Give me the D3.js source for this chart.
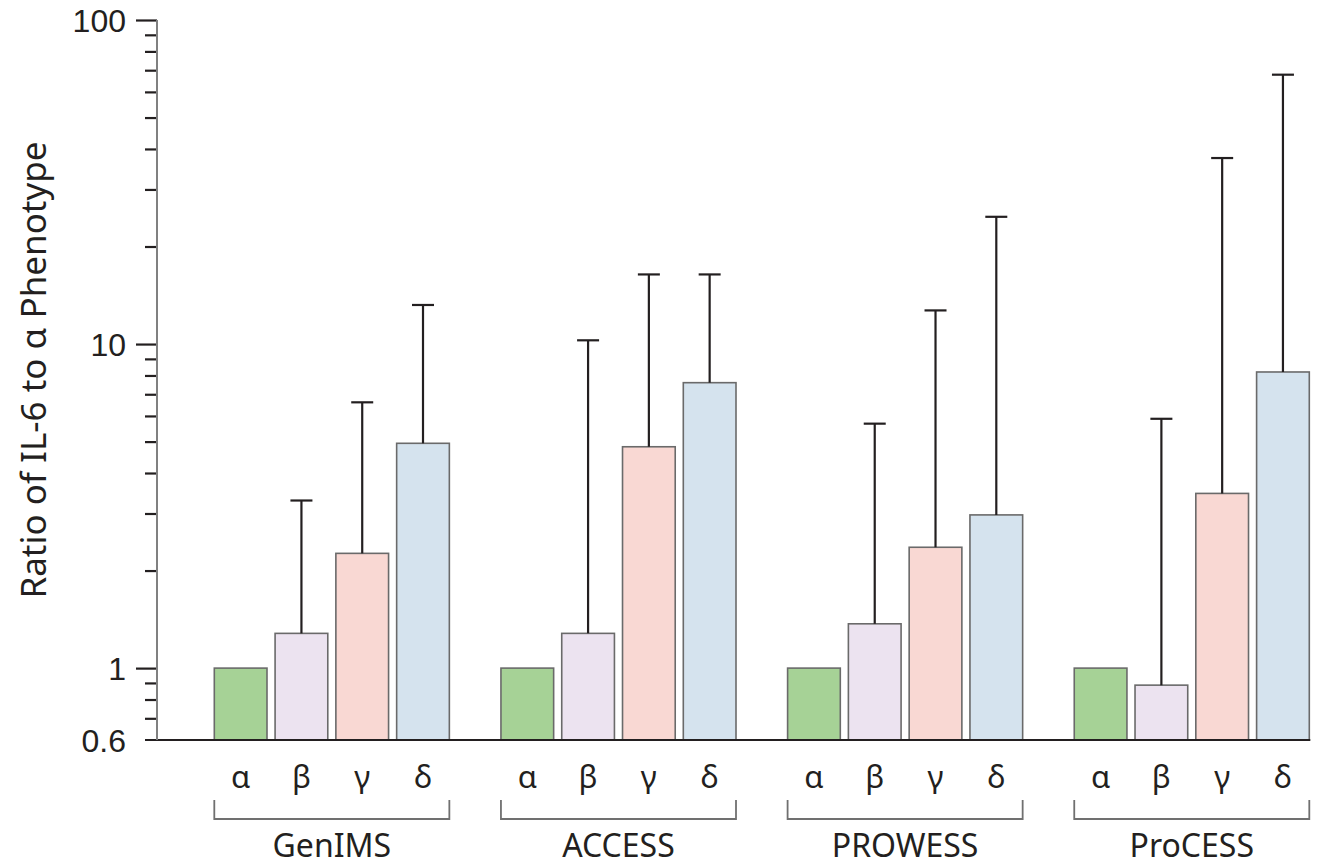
<!DOCTYPE html>
<html>
<head>
<meta charset="utf-8">
<script src="https://cdn.jsdelivr.net/npm/d3@7"></script>
<style>
  html, body { margin: 0; padding: 0; background: #fff; }
  svg { display: block; font-family: "Noto Sans", "Open Sans", sans-serif; }
</style>
</head>
<body>
<svg id="chart" width="1322" height="867"></svg>
<script>
// Cohorts and phenotypes
const cohorts = ["GenIMS", "ACCESS", "PROWESS", "ProCESS"];
const phenotypes = ["α", "β", "γ", "δ"];

// Ratio of IL-6 relative to the α phenotype (one row per cohort, α..δ)
const ratioGenIMS  = [1, 1.28, 2.26, 4.94];
const ratioACCESS  = [1, 1.28, 4.82, 7.60];
const ratioPROWESS = [1, 1.37, 2.36, 2.97];
const ratioProCESS = [1, 0.886, 3.46, 8.20];

// Upper end of the error bars (α has none)
const upperGenIMS  = [null, 3.29, 6.61, 13.2];
const upperACCESS  = [null, 10.27, 16.4, 16.4];
const upperPROWESS = [null, 5.68, 12.7, 24.7];
const upperProCESS = [null, 5.88, 37.5, 67.8];

// Y-axis tick values
const majorTicks = [0.6, 1, 10, 100];
const majorTickLabels = ["0.6", "1", "10", "100"];
const minorTicks = [0.7, 0.8, 0.9, 2, 3, 4, 5, 6, 7, 8, 9, 20, 30, 40, 50, 60, 70, 80, 90];

const phenotypeColors = ["#a6d296", "#ece3f0", "#f9d8d3", "#d5e3ee"];

const ratios = [ratioGenIMS, ratioACCESS, ratioPROWESS, ratioProCESS];
const uppers = [upperGenIMS, upperACCESS, upperPROWESS, upperProCESS];

const rows = [];
cohorts.forEach((c, i) => {
  phenotypes.forEach((p, j) => {
    rows.push({ cohort: c, phenotype: p, value: ratios[i][j], upper: uppers[i][j], color: phenotypeColors[j] });
  });
});

const svg = d3.select("#chart");

const axisX = 157;
const y = d3.scaleLog().domain([0.6, 100]).range([740, 20]);
const baseY = y(0.6);

const x0 = d3.scaleBand().domain(cohorts).range([214.3, 1309.3]).paddingInner(0.18).paddingOuter(0);
const x1 = d3.scaleBand().domain(phenotypes).range([0, x0.bandwidth()]).paddingInner(0.133).paddingOuter(0);

// Bars
const g = svg.append("g");
g.selectAll("rect.bar")
  .data(rows)
  .join("rect")
  .attr("class", "bar")
  .attr("x", d => x0(d.cohort) + x1(d.phenotype))
  .attr("width", x1.bandwidth())
  .attr("y", d => y(d.value))
  .attr("height", d => baseY - y(d.value))
  .attr("fill", d => d.color)
  .attr("stroke", "#6a6a6a")
  .attr("stroke-width", 1.6);

// Error bars
const capHalf = 11;
const withErr = rows.filter(d => d.upper != null);
const eg = g.selectAll("g.err").data(withErr).join("g").attr("class", "err")
  .attr("stroke", "#231f20").attr("stroke-width", 2.2);
eg.append("line")
  .attr("x1", d => x0(d.cohort) + x1(d.phenotype) + x1.bandwidth() / 2)
  .attr("x2", d => x0(d.cohort) + x1(d.phenotype) + x1.bandwidth() / 2)
  .attr("y1", d => y(d.value))
  .attr("y2", d => y(d.upper));
eg.append("line")
  .attr("x1", d => x0(d.cohort) + x1(d.phenotype) + x1.bandwidth() / 2 - capHalf)
  .attr("x2", d => x0(d.cohort) + x1(d.phenotype) + x1.bandwidth() / 2 + capHalf)
  .attr("y1", d => y(d.upper))
  .attr("y2", d => y(d.upper));

// Baseline
svg.append("line")
  .attr("x1", axisX - 12).attr("x2", x0.range()[1] + 1)
  .attr("y1", baseY).attr("y2", baseY)
  .attr("stroke", "#231f20").attr("stroke-width", 2);

// Minor ticks
const minorAxis = d3.axisLeft(y).tickValues(minorTicks).tickSize(12).tickFormat("");
const gMinor = svg.append("g").attr("transform", `translate(${axisX},0)`).call(minorAxis);
gMinor.select(".domain").remove();
gMinor.selectAll(".tick line").attr("stroke", "#231f20").attr("stroke-width", 2.2);

// Major ticks with labels
const majorAxis = d3.axisLeft(y).tickValues(majorTicks).tickSize(21).tickPadding(10)
  .tickFormat((d, i) => majorTickLabels[i]);
const gMajor = svg.append("g").attr("transform", `translate(${axisX},0)`).call(majorAxis);
gMajor.select(".domain").remove();
gMajor.selectAll(".tick line").attr("stroke", "#231f20").attr("stroke-width", 2.2)
  .filter(d => d === 0.6).remove();
gMajor.selectAll(".tick text")
  .attr("font-size", 32).attr("fill", "#231f20")
  .attr("font-family", "'Liberation Sans', Arial, sans-serif")
  .attr("dy", "0.35em")
  .attr("x", -31);

// Vertical axis line
svg.append("line")
  .attr("x1", axisX).attr("x2", axisX)
  .attr("y1", y(100)).attr("y2", baseY)
  .attr("stroke", "#808080").attr("stroke-width", 2);

// Y-axis title
svg.append("text")
  .attr("transform", `translate(46, 370) rotate(-90)`)
  .attr("text-anchor", "middle")
  .attr("font-size", 35)
  .attr("fill", "#231f20")
  .text("Ratio of IL-6 to α Phenotype");

// Phenotype labels under each bar
svg.append("g").selectAll("text")
  .data(rows)
  .join("text")
  .attr("x", d => x0(d.cohort) + x1(d.phenotype) + x1.bandwidth() / 2)
  .attr("y", 788)
  .attr("text-anchor", "middle")
  .attr("font-size", 31)
  .attr("fill", "#231f20")
  .text(d => d.phenotype);

// Cohort brackets and names
const bg = svg.append("g").selectAll("g").data(cohorts).join("g");
bg.append("path")
  .attr("d", c => {
    const a = x0(c), b = x0(c) + x0.bandwidth();
    return `M${a},800V819H${b}V800`;
  })
  .attr("fill", "none").attr("stroke", "#707070").attr("stroke-width", 1.8);
bg.append("text")
  .attr("x", c => x0(c) + x0.bandwidth() / 2)
  .attr("y", 857)
  .attr("text-anchor", "middle")
  .attr("font-size", 32)
  .attr("fill", "#231f20")
  .text(c => c);
</script>
</body>
</html>
